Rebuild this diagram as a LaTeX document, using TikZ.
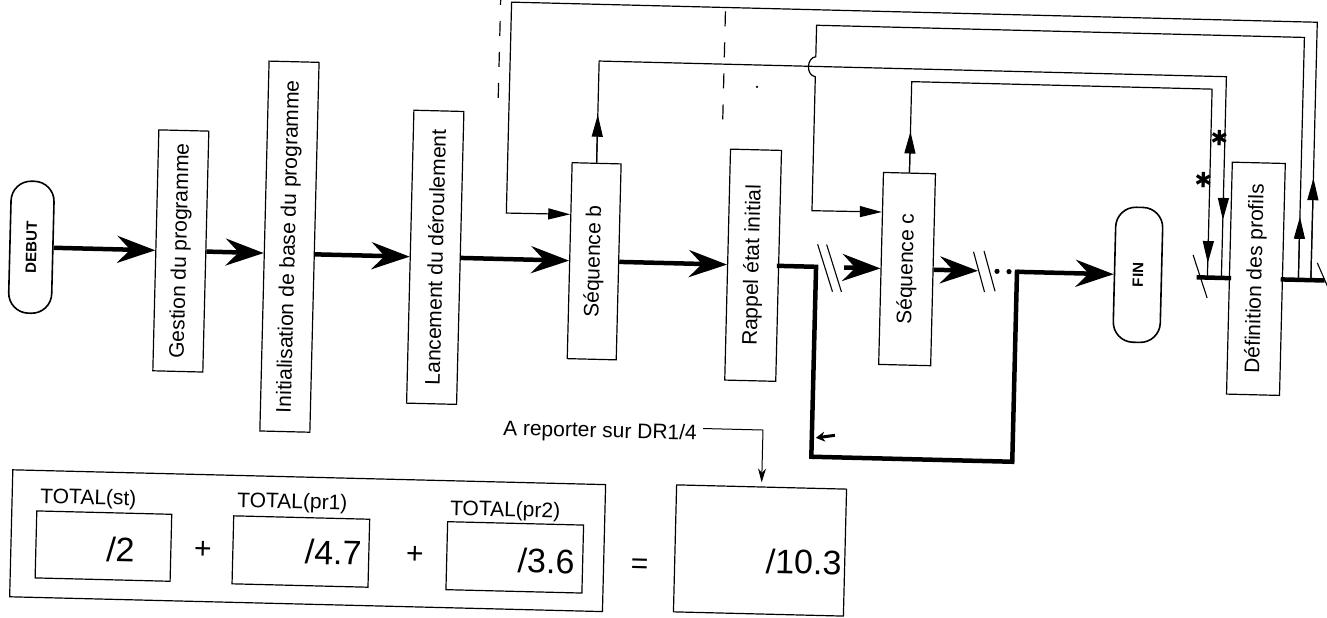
\documentclass[tikz,border=0pt]{standalone}
\usepackage{fontspec}
\usepackage{graphicx}
\setmainfont{Liberation Sans}
\newfontfamily\djv{DejaVu Sans}
\usetikzlibrary{arrows.meta,calc}
\newcommand\boxfont{\fontsize{21pt}{25pt}\selectfont}
\newcommand\termfont{\fontsize{15pt}{17pt}\selectfont\bfseries}
\newcommand\valfont{\fontsize{34pt}{38pt}\selectfont}
\newcommand\opfont{\fontsize{30pt}{34pt}\selectfont}
\tikzset{
  box/.style={draw, line width=1.2pt, inner sep=0pt, font=\boxfont},
  term/.style={draw, line width=1.6pt, rounded corners=20pt, inner sep=0pt, font=\termfont},
  flow/.style={line width=4.5pt, line cap=rect},
  flowarrow/.style={line width=4.5pt, -{Stealth[length=38pt,width=27pt,inset=13pt]}},
  loopline/.style={line width=1.2pt},
  looparrow/.style={line width=1.2pt, -{Triangle[length=22pt,width=11pt]}},
  slashline/.style={line width=1.1pt},
  dashline/.style={line width=1.2pt, dash pattern=on 15pt off 16pt},
  starmark/.style={inner sep=0pt, font=\djv\bfseries\fontsize{21pt}{21pt}\selectfont},
  tbox/.style={draw, line width=1.2pt, inner sep=0pt},
  val/.style={inner sep=0pt, font=\valfont},
  lbl/.style={inner sep=0pt, font=\boxfont},
  op/.style={inner sep=0pt, font=\opfont},
  leader/.style={line width=1pt, -{Stealth[length=14pt,width=8pt]}}
}
\begin{document}
\begin{tikzpicture}[x=1pt,y=-1pt]
\fill[white] (0,0) rectangle (1327,618);
\useasboundingbox (0,0) rectangle (1327,618);
\begin{scope}[rotate around={-1.43:(663,309)}, transform shape]
% main chain
\node[term, minimum width=43pt, minimum height=132pt] (deb) at (30,263) {\rotatebox{90}{DEBUT}};
\node[box, minimum width=50pt, minimum height=241pt] (g) at (179.5,263) {\rotatebox{90}{Gestion du programme}};
\node[box, minimum width=50pt, minimum height=370pt] (i) at (288,256) {\rotatebox{90}{Initialisation de base du programme}};
\node[box, minimum width=50pt, minimum height=293pt] (l) at (434,263) {\rotatebox{90}{Lancement du déroulement}};
\node[box, minimum width=49pt, minimum height=196pt] (sb) at (593,263) {\rotatebox{90}{Séquence b}};
\node[box, minimum width=51pt, minimum height=231pt] (ra) at (752,263) {\rotatebox{90}{Rappel état initial}};
\node[box, minimum width=52pt, minimum height=192pt] (sc) at (906,263) {\rotatebox{90}{Séquence c}};
\node[term, minimum width=47pt, minimum height=135pt] (fin) at (1137,263) {\rotatebox{90}{FIN}};
\node[box, minimum width=53pt, minimum height=232pt] (df) at (1255,264) {\rotatebox{90}{Définition des profils}};

\draw[flowarrow] (deb.east) -- (g.west);
\draw[flowarrow] (g.east) -- ($(i.north west)!0.519!(i.south west)$);
\draw[flowarrow] ($(i.north east)!0.519!(i.south east)$) -- (l.west);
\draw[flowarrow] (l.east) -- (sb.west);
\draw[flowarrow] (sb.east) -- (ra.west);
\coordinate (j1) at (815,263);
\coordinate (j2) at (843,263);
\coordinate (j3) at (977,263);
\coordinate (j4) at (1016,263);
\coordinate (j5) at (815,453);
\coordinate (j6) at (1016,453);
\draw[flow] (ra.east) -- (j1) -- (j5) -- (j6) -- (j4);
\draw[flowarrow] (j2) -- (sc.west);
\draw[flowarrow] (sc.east) -- (j3);
\draw[flowarrow] (j4) -- (fin.west);
\draw[line width=3pt, -{Stealth[length=9pt,width=10pt]}] (838,431) -- (819,434);
% breaks
\draw[slashline] (816,240.5) -- (832,287.5);
\draw[slashline] (825,240.5) -- (841,287.5);
\draw[slashline] (972,244) -- (984,284);
\draw[slashline] (982.5,243) -- (994.5,283);
\fill (996,263) circle (2.6pt);
\fill (1008,263) circle (2.6pt);
% around definition
\coordinate (d1) at (1198,264);
\coordinate (d2) at (1321.5,264);
\draw[flow] (d1) -- (df.west);
\draw[flow] (df.east) -- (d2);
\draw[slashline] (1191.6,241.7) -- (1206.7,284.4);
\draw[slashline] (1316,246.6) -- (1331,279);
% loop A
\coordinate (a0) at (1310,264);
\coordinate (a1) at (1310,6);
\coordinate (a2) at (504,6);
\coordinate (a3) at (504,217);
\draw[looparrow] (a0) -- (a1) -- (a2) -- (a3) -- ($(sb.north west)!0.265!(sb.south west)$);
\draw[looparrow] (a0) -- (1310,162);
% loop B
\coordinate (b0) at (1297.5,264);
\coordinate (b1) at (1297.5,21.5);
\coordinate (b2) at (809.5,21.5);
\coordinate (b3) at (809.5,53);
\coordinate (b4) at (809.5,73);
\coordinate (b5) at (809.5,207);
\draw[looparrow] (b0) -- (b1) -- (b2) -- (b3) .. controls (800,54) and (800,72) .. (b4) -- (b5) -- ($(sc.north west)!0.208!(sc.south west)$);
\draw[looparrow] (b0) -- (1297.5,201);
% loop C
\coordinate (c1) at (593,62.7);
\coordinate (c2) at (1220.5,62.7);
\coordinate (c3) at (1220.5,264);
\draw[loopline] (sb.north) -- (c1) -- (c2) -- (c3);
\draw[looparrow] (sb.north) -- ++(0,-48);
\draw[looparrow] (1220.5,183) -- (1220.5,206);
\node[starmark] (s1) at (1215,124) {✱};
% loop D
\coordinate (e1) at (906,75.5);
\coordinate (e2) at (1206.5,75.5);
\coordinate (e3) at (1206.5,264);
\draw[loopline] (sc.north) -- (e1) -- (e2) -- (e3);
\draw[looparrow] (sc.north) -- ++(0,-41);
\draw[looparrow] (1206.5,225) -- (1206.5,249.5);
\node[starmark] (s2) at (1200,167) {✱};
% dashed marks
\draw[dashline] (493,-6) -- (493,114);
\draw[dashline] (718,10) -- (718,120);
\fill (751.4,84.6) circle (1.3pt);
% totals
\node[tbox, minimum width=593pt, minimum height=127pt] (tot) at (313.5,549.5) {};
\node[tbox, minimum width=135pt, minimum height=67pt] (st) at (109.5,560) {};
\node[tbox, minimum width=136pt, minimum height=68pt] (p1) at (307,560.5) {};
\node[tbox, minimum width=136pt, minimum height=68pt] (p2) at (521,561) {};
\node[tbox, minimum width=170pt, minimum height=127pt] (res) at (766,548) {};
\node[lbl, anchor=base west] (lst) at (45,518.5) {TOTAL(st)};
\node[lbl, anchor=base west] (lp1) at (242,517.7) {TOTAL(pr1)};
\node[lbl, anchor=base west] (lp2) at (455,520.3) {TOTAL(pr2)};
\node[val, anchor=east] (vst) at (141,563) {/2};
\node[val, anchor=east] (vp1) at (368,560.5) {/4.7};
\node[val, anchor=east] (vp2) at (581,564) {/3.6};
\node[val, anchor=east] (vres) at (848,558.5) {/10.3};
\node[op] (plus1) at (209,561.5) {+};
\node[op] (plus2) at (421,561) {+};
\node[op] (eq) at (646,566.5) {=};
\node[lbl, anchor=base west] (rep) at (506,439) {A reporter sur DR1/4};
\coordinate (r1) at (706,427.5);
\coordinate (r2) at (766,427.5);
\draw[leader, shorten >=4pt] (r1) -- (r2) -- (res.north);
\end{scope}
\end{tikzpicture}
\end{document}
